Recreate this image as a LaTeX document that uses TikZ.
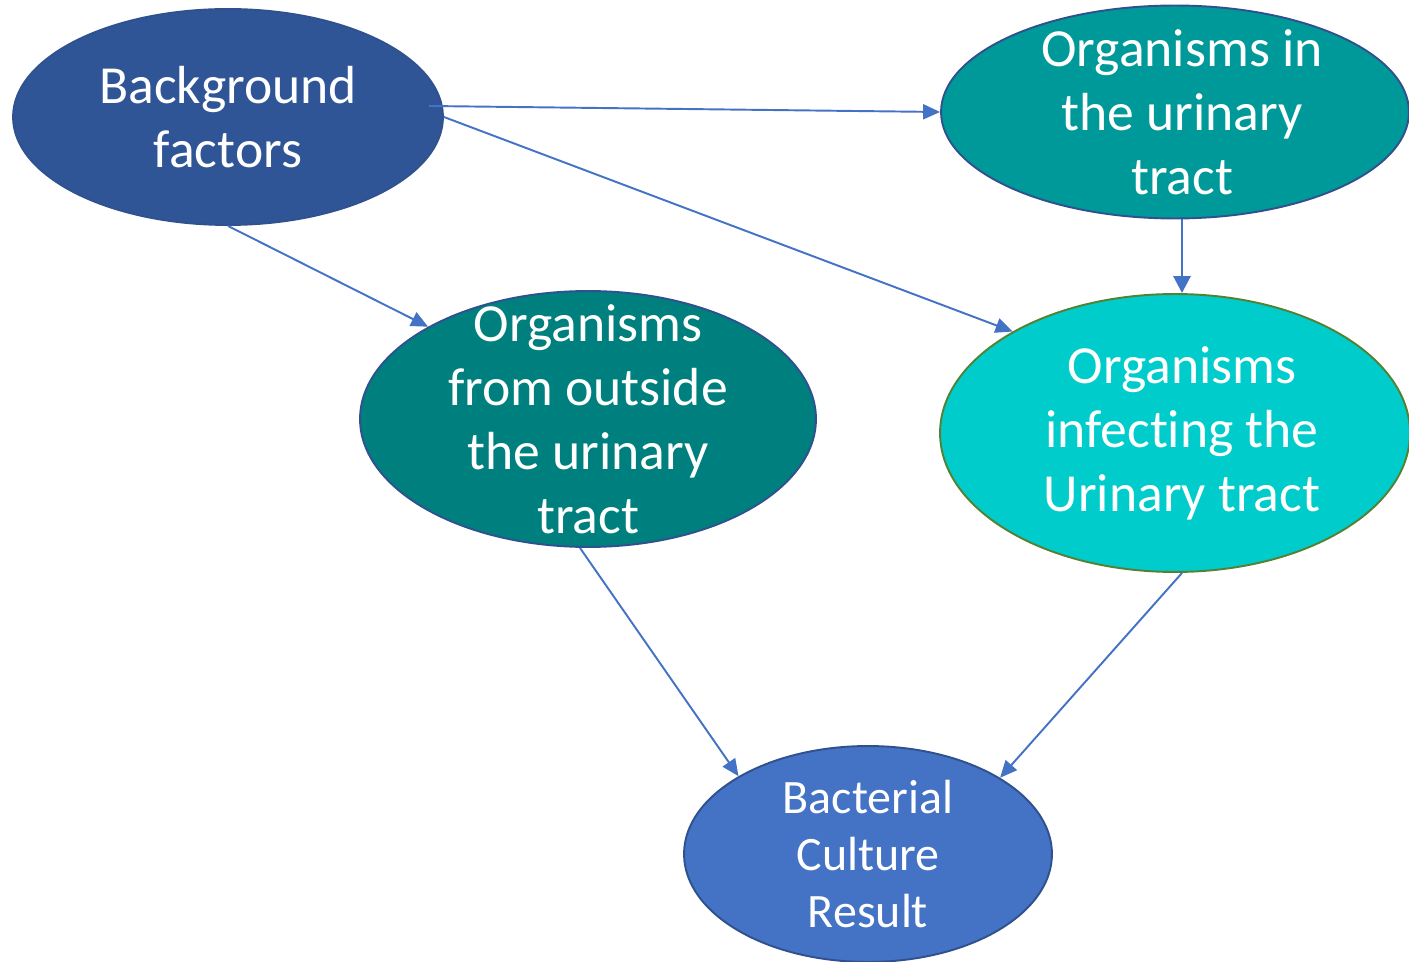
\documentclass[tikz,border=0pt]{standalone}
\usepackage{fontspec}
\setmainfont{Carlito}[Ligatures=NoCommon]
\usetikzlibrary{shapes.geometric,arrows.meta}
\definecolor{bfblue}{HTML}{2F5597}
\definecolor{edgeblue}{HTML}{2F528F}
\definecolor{tealA}{HTML}{009999}
\definecolor{tealB}{HTML}{007F7F}
\definecolor{cyanC}{HTML}{00CCCC}
\definecolor{oliveE}{HTML}{548235}
\definecolor{midblue}{HTML}{4472C4}
\tikzset{
  oval/.style={ellipse, inner sep=0pt, line width=1.1pt, draw=edgeblue},
  txt/.style={text=white, align=center, inner sep=0pt,
    font=\fontsize{30.5pt}{36.4pt}\selectfont},
  conn/.style={draw=midblue, line width=1.1pt, -{Triangle[length=0.34cm,width=0.30cm]}}
}
\begin{document}
\begin{tikzpicture}[x=0.02cm,y=-0.02cm]
\useasboundingbox (0,0) rectangle (1409,962);
\node[oval, fill=bfblue, minimum width=8.6cm, minimum height=4.32cm,
  label={[txt]center:Background\\factors}] (bf) at (228,117) {};
\node[oval, fill=tealA, minimum width=9.36cm, minimum height=4.26cm,
  label={[txt, xshift=0.14cm]center:Organisms in\\the urinary\\tract}] (oiut) at (1175,112) {};
\node[oval, fill=tealB, minimum width=9.12cm, minimum height=5.12cm,
  label={[txt]center:Organisms\\from outside\\the urinary\\tract}] (out) at (588,419) {};
\node[oval, fill=cyanC, draw=oliveE, minimum width=9.4cm, minimum height=5.56cm,
  label={[txt, xshift=0.14cm]center:Organisms\\infecting the\\Urinary tract}] (inf) at (1175,433) {};
\node[oval, fill=midblue, minimum width=7.36cm, minimum height=4.32cm,
  label={[txt, font=\fontsize{27.3pt}{32.4pt}\selectfont]center:Bacterial\\Culture\\Result}] (bcr) at (868,854) {};
\draw[conn] ([shift={(-15,-11)}]bf.east) -- (oiut.west);
\draw[conn] (bf.east) -- (inf.148);
\draw[conn] (bf.south) -- (out.150);
\draw[conn, line width=1.6pt, -{Triangle[length=0.34cm,width=0.34cm]}] ([xshift=0.14cm]oiut.south) -- ([xshift=0.14cm]inf.north);
\draw[conn] ([xshift=-0.16cm]out.south) -- (bcr.149);
\draw[conn] ([xshift=0.14cm]inf.south) -- (bcr.30);
\end{tikzpicture}
\end{document}
